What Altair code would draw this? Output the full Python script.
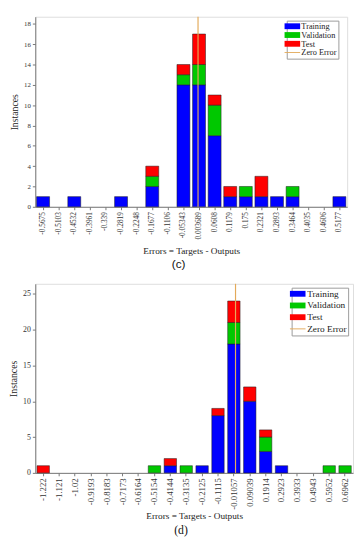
import altair as alt
import pandas as pd

# ---- data (c) ----
c_labels = ["-0.5675", "-0.5103", "-0.4532", "-0.3961", "-0.339", "-0.2819", "-0.2248",
            "-0.1677", "-0.1106", "-0.05343", "0.003689", "0.0608", "0.1179", "0.175",
            "0.2321", "0.2893", "0.3464", "0.4035", "0.4606", "0.5177"]
c_train = [1, 0, 1, 0, 0, 1, 0, 2, 0, 12, 12, 7, 1, 1, 1, 1, 1, 0, 0, 1]
c_val   = [0, 0, 0, 0, 0, 0, 0, 1, 0, 1, 2, 3, 0, 1, 0, 0, 1, 0, 0, 0]
c_test  = [0, 0, 0, 0, 0, 0, 0, 1, 0, 1, 3, 1, 1, 0, 2, 0, 0, 0, 0, 0]
c_yticks = [0, 2, 4, 6, 8, 10, 12, 14, 16, 18]
c_ymax = 18.7

# ---- data (d) ----
d_labels = ["-1.222", "-1.121", "-1.02", "-0.9193", "-0.8183", "-0.7173", "-0.6164",
            "-0.5154", "-0.4144", "-0.3135", "-0.2125", "-0.1115", "-0.01057", "0.09039",
            "0.1914", "0.2923", "0.3933", "0.4943", "0.5952", "0.6962"]
d_train = [0, 0, 0, 0, 0, 0, 0, 0, 1, 0, 1, 8, 18, 10, 3, 1, 0, 0, 0, 0]
d_val   = [0, 0, 0, 0, 0, 0, 0, 1, 0, 1, 0, 0, 3, 0, 2, 0, 0, 0, 1, 1]
d_test  = [1, 0, 0, 0, 0, 0, 0, 0, 1, 0, 0, 1, 3, 2, 1, 0, 0, 0, 0, 0]
d_yticks = [0, 5, 10, 15, 20, 25]
d_ymax = 26.4

series = ["Training", "Validation", "Test", "Zero Error"]
colors = ["#0000FF", "#00C800", "#FF0000", "#E3AA5A"]
shapes = ["M-2,-0.75H2V0.75H-2Z"] * 3 + ["M-2,-0.12H2V0.12H-2Z"]

SERIF = "Liberation Serif"


def long_df(labels, tr, va, te):
    rows = []
    for i, lab in enumerate(labels):
        for k, (name, vals) in enumerate(zip(series[:3], [tr, va, te])):
            rows.append({"bin": lab, "idx": i, "set": name, "ord": k, "count": vals[i]})
    return pd.DataFrame(rows)


def panel(labels, tr, va, te, yticks, ymax, width, height, pad_inner,
          legx, legy, leg_font, leg_rowpad, caption, cap_font, x_title_pad,
          tick_font, xtick_font, cap_offset):
    df = long_df(labels, tr, va, te)
    n = len(labels)
    lo, hi = float(labels[0]), float(labels[-1])
    step = (hi - lo) / (n - 1)
    xdom = [lo - step / 2, hi + step / 2]

    legend = alt.Legend(
        orient="none", legendX=legx, legendY=legy, title=None,
        strokeColor="#9a9a9a", fillColor="white", padding=1.5,
        labelFont=SERIF, labelFontSize=leg_font, labelColor="#222",
        symbolSize=64, rowPadding=leg_rowpad, labelOffset=5,
        symbolStrokeWidth=0,
    )
    cscale = alt.Scale(domain=series, range=colors)
    sscale = alt.Scale(domain=series, range=shapes)
    yscale = alt.Scale(domain=[0, ymax], nice=False, zero=True)
    yaxis = alt.Axis(title="Instances", values=yticks, grid=False,
                     labelFont=SERIF, labelFontSize=tick_font, labelColor="#333",
                     titleFont=SERIF, titleFontSize=10, titleFontWeight="normal",
                     titleColor="#222", titlePadding=4,
                     domainColor="#777", tickColor="#777", tickSize=3,
                     labelPadding=2, labelOverlap=False)

    bars = alt.Chart(df).transform_filter("datum.count > 0").mark_bar(
        stroke="#1a1a1a", strokeWidth=0.5
    ).encode(
        x=alt.X("bin:N",
                scale=alt.Scale(domain=labels, paddingInner=pad_inner, paddingOuter=pad_inner / 2),
                axis=alt.Axis(title="Errors = Targets - Outputs", labelAngle=-90,
                              labelFont=SERIF, labelFontSize=xtick_font, labelColor="#333",
                              titleFont=SERIF, titleFontSize=9.5, titleFontWeight="normal",
                              titleColor="#222", titlePadding=x_title_pad,
                              domainColor="#777", tickColor="#777", tickSize=3,
                              labelPadding=2, labelOverlap=False)),
        y=alt.Y("count:Q", stack="zero", scale=yscale, axis=yaxis),
        color=alt.Color("set:N", scale=cscale, legend=legend),
        order=alt.Order("ord:Q"),
    )

    rule = alt.Chart(pd.DataFrame({"zero": [0.0], "base": [0.0]})).mark_rule(
        color=colors[3], strokeWidth=1.2
    ).encode(
        x=alt.X("zero:Q", scale=alt.Scale(domain=xdom, nice=False, zero=False), axis=None),
        y=alt.Y("base:Q", scale=yscale, axis=yaxis),
        y2=alt.value(0),
    )

    leg = alt.Chart(df).transform_filter("false").mark_point(filled=True, opacity=1).encode(
        color=alt.Color("set:N", scale=cscale, legend=legend),
        shape=alt.Shape("set:N", scale=sscale, legend=legend),
    )

    return alt.layer(bars, rule, leg).resolve_scale(x="independent").properties(
        width=width, height=height,
        title=alt.TitleParams(caption, orient="bottom", font=cap_font, fontSize=12,
                              fontWeight="normal", color="#111", anchor="middle",
                              frame="bounds", offset=cap_offset),
    )


top = panel(c_labels, c_train, c_val, c_test, c_yticks, c_ymax, 320, 195, 0.17,
            258, 4, 8.5, 0, "(c)", "Liberation Sans", 7, 7, 7.5, 4)
bottom = panel(d_labels, d_train, d_val, d_test, d_yticks, d_ymax, 326, 194, 0.22,
               263, 4, 9.5, 1, "(d)", SERIF, 2, 8, 9, 5)

chart = alt.vconcat(top, bottom, spacing=11).resolve_scale(
    color="independent", shape="independent"
).resolve_legend(color="independent", shape="independent").properties(padding=0).configure_view(
    stroke=None
).configure(background="white")

chart.save("out.html", embed_options={"renderer": "svg", "actions": False})
